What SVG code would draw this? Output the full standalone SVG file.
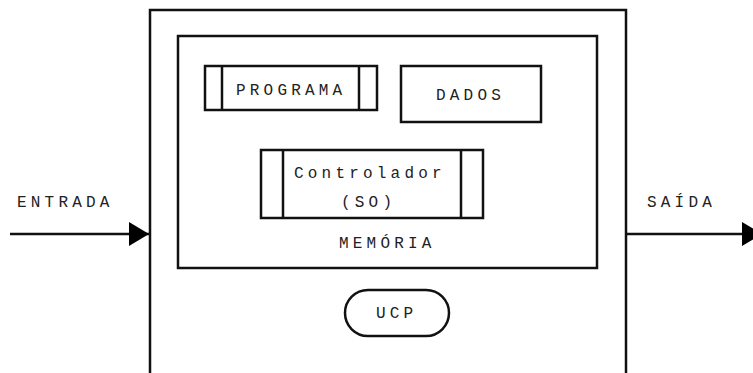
<svg xmlns="http://www.w3.org/2000/svg" width="753" height="373" viewBox="0 0 753 373">
<defs>
<style>
.box{fill:#fff;stroke:#111;stroke-width:2.5}
.ln{fill:none;stroke:#111;stroke-width:2.5}
.t{font-family:"Liberation Mono","Courier New",monospace;font-size:16px;letter-spacing:4.2px;fill:#222}
</style>
<marker id="arr" markerUnits="userSpaceOnUse" markerWidth="20" markerHeight="24" refX="20" refY="12" orient="auto">
<path d="M0,0 L20,12 L0,24 Z" fill="#000"/>
</marker>
</defs>
<rect width="753" height="373" fill="#fff"/>
<g id="cpu">
<rect class="box" x="150" y="10" width="476" height="380"/>
</g>
<g id="memoria">
<rect class="box" x="178" y="36" width="419" height="232"/>
<text class="t" x="339" y="248">MEMÓRIA</text>
</g>
<g id="programa">
<rect class="box" x="205" y="66" width="172" height="44"/>
<line class="ln" x1="222" y1="66" x2="222" y2="110"/>
<line class="ln" x1="359" y1="66" x2="359" y2="110"/>
<text class="t" x="236" y="95">PROGRAMA</text>
</g>
<g id="dados">
<rect class="box" x="401" y="66" width="140" height="56"/>
<text class="t" x="436" y="100">DADOS</text>
</g>
<g id="controlador">
<rect class="box" x="261" y="150" width="222" height="68"/>
<line class="ln" x1="283" y1="150" x2="283" y2="218"/>
<line class="ln" x1="461" y1="150" x2="461" y2="218"/>
<text class="t" x="294" y="178">Controlador</text>
<text class="t" x="341" y="207">(SO)</text>
</g>
<g id="ucp">
<rect class="box" x="345" y="290" width="104" height="46" rx="23" ry="23"/>
<text class="t" x="376" y="318">UCP</text>
</g>
<g id="entrada">
<text class="t" x="17" y="207">ENTRADA</text>
</g>
<g id="saida">
<text class="t" x="647" y="207">SAÍDA</text>
</g>
<g id="connectors">
<line class="ln" x1="10" y1="234" x2="149" y2="234" marker-end="url(#arr)"/>
<line class="ln" x1="626" y1="234" x2="762" y2="234" marker-end="url(#arr)"/>
</g>
</svg>
